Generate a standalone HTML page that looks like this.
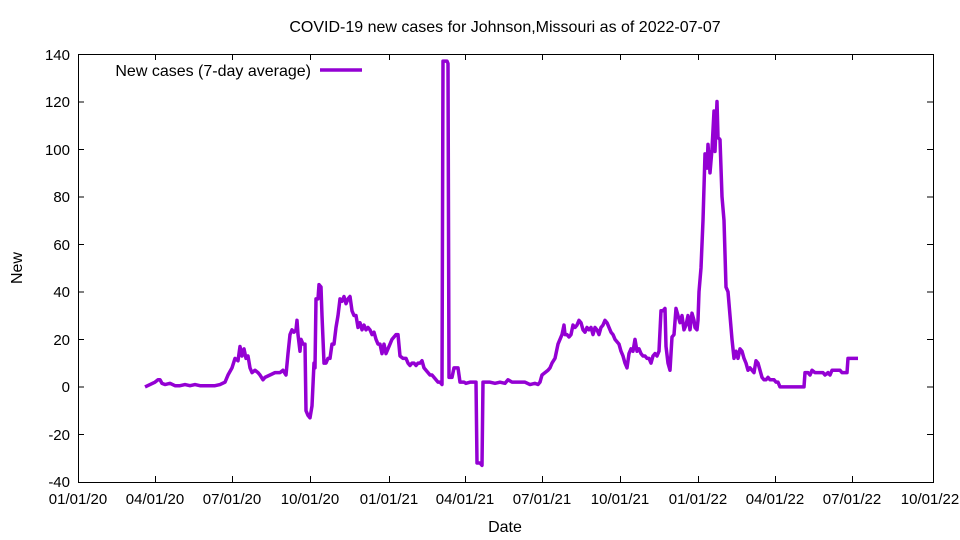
<!DOCTYPE html>
<html><head><meta charset="utf-8"><style>
body{margin:0;background:#fff;}
svg{display:block;font-family:"Liberation Sans",sans-serif;font-size:15px;}
</style></head><body>
<svg width="960" height="540" viewBox="0 0 960 540" xmlns="http://www.w3.org/2000/svg">
<rect width="960" height="540" fill="#fff"/>
<text x="505" y="32" text-anchor="middle" font-size="16">COVID-19 new cases for Johnson,Missouri as of 2022-07-07</text>
<g stroke="#000" stroke-width="1" fill="none">
<rect x="78.5" y="54.5" width="855" height="428"/>
<path d="M78 54.5h6M78 102h6M78 149.5h6M78 197h6M78 244.5h6M78 292h6M78 339.5h6M78 387h6M78 434.5h6
M933 54.5h-6M933 102h-6M933 149.5h-6M933 197h-6M933 244.5h-6M933 292h-6M933 339.5h-6M933 387h-6M933 434.5h-6
M155.5 482v-6M232.5 482v-6M310.5 482v-6M389.5 482v-6M465.5 482v-6M542.5 482v-6M620.5 482v-6M698.5 482v-6M775.5 482v-6M852.5 482v-6
M155.5 54v6M232.5 54v6M310.5 54v6M389.5 54v6M465.5 54v6M542.5 54v6M620.5 54v6M698.5 54v6M775.5 54v6M852.5 54v6"/>
</g>
<g text-anchor="end">
<text x="70" y="60">140</text><text x="70" y="107">120</text><text x="70" y="155">100</text>
<text x="70" y="202">80</text><text x="70" y="250">60</text><text x="70" y="297">40</text>
<text x="70" y="345">20</text><text x="70" y="392">0</text><text x="70" y="440">-20</text><text x="70" y="487">-40</text>
</g>
<g text-anchor="middle">
<text x="78" y="504">01/01/20</text><text x="155" y="504">04/01/20</text><text x="232" y="504">07/01/20</text>
<text x="310" y="504">10/01/20</text><text x="389" y="504">01/01/21</text><text x="465" y="504">04/01/21</text>
<text x="542" y="504">07/01/21</text><text x="620" y="504">10/01/21</text><text x="698" y="504">01/01/22</text>
<text x="775" y="504">04/01/22</text><text x="852" y="504">07/01/22</text><text x="930" y="504">10/01/22</text>
<text x="505" y="532" font-size="16">Date</text>
</g>
<text x="22" y="268" text-anchor="middle" font-size="16" transform="rotate(-90 22 268)">New</text>
<text x="311" y="76" text-anchor="end" font-size="16">New cases (7-day average)</text>
<line x1="320" y1="70" x2="362" y2="70" stroke="#9400d3" stroke-width="3.5"/>
<g transform="translate(0,386.9) scale(1,-2.378)">
<polyline fill="none" stroke="#9400d3" stroke-width="3.5" vector-effect="non-scaling-stroke" stroke-linejoin="round" points="
145,0 150,1 155,2 158,3 160,3 162,1.5 165,1 170,1.5 175,0.5 180,0.5 185,1 190,0.5 195,1 200,0.5 205,0.5 210,0.5 215,0.5 220,1 225,2 228,5 232,8 235,12 238,11 240,17 242,13 244,16 246,12 248,13 250,8 252,6 255,7 258,6 260,5 263,3 265,4 270,5 275,6 280,6 283,7 286,5 288,14 290,22 292,24 294,23 296,24 297,28 298,22 300,15 301,20 303,18 305,18 306,-10 308,-12 310,-13 312,-8 314,10 315,8 316,37 318,37 319,43 321,42 322,30 324,10 326,10 328,12 330,12 332,18 334,18 336,25 338,30 340,37 342,36 344,38 346,35 348,37 350,38 352,32 354,30 356,30 358,25 360,27 362,24 364,26 366,24 368,25 370,24 372,22 374,23 376,20 378,18 380,18 382,14 384,18 386,14 388,16 390,18 392,20 394,21 396,22 398,22 400,13 403,12 406,12 408,10 410,9 412,10 414,10 416,9 418,10 420,10 422,11 424,8 426,7 428,6 430,5 432,5 434,4 436,3 438,2 440,2 442,1 443,137 447,137 448,136 449,4 450,4 452,4 454,8 456,8 458,8 460,2 462,2 464,2 466,1.5 470,2 474,2 476,2 477,-32 480,-32 482,-33 483,2 486,2 490,2 495,1.5 500,2 505,1.5 508,3 512,2 515,2 520,2 525,2 530,1 535,1.5 538,1 540,2 542,5 545,6 548,7 550,8 552,10 555,12 558,18 560,20 562,22 564,26 565,22 567,22 569,21 571,22 573,26 575,25 577,26 579,28 581,27 583,24 585,23 587,25 589,24 591,25 593,22 595,25 597,24 599,22 601,25 603,26 605,28 607,27 609,25 611,23 613,22 615,20 617,19 619,18 621,15 623,13 625,10 627,8 629,14 631,16 633,15 635,20 637,15 639,16 641,14 643,13 645,13 647,12 649,12 651,10 653,13 655,14 657,13 659,15 661,32 663,32 665,33 666,17 668,10 670,7 672,21 674,22 676,33 678,30 680,27 682,30 684,24 686,26 688,30 690,24 692,31 694,28 695,25 697,24 698,28 699,40 701,50 703,70 705,98 707,92 708,102 710,90 712,100 714,116 715,99 717,120 718,105 720,104 722,80 724,70 726,42 728,40 730,30 732,20 734,12 736,15 738,12 740,16 742,15 744,12 746,10 748,7 750,8 752,7 754,6 756,11 758,10 760,7 762,4 764,3 766,3 768,4 770,3 772,3 774,3 776,2 778,2 780,0 785,0 790,0 795,0 800,0 804,0 805,6 808,6 810,5 812,7 815,6 820,6 823,6 825,5 828,6 830,5 832,7 835,7 838,7 840,7 842,6 845,6 847,6 848,12 852,12 855,12 858,12"/>
</g>
</svg>
</body></html>
